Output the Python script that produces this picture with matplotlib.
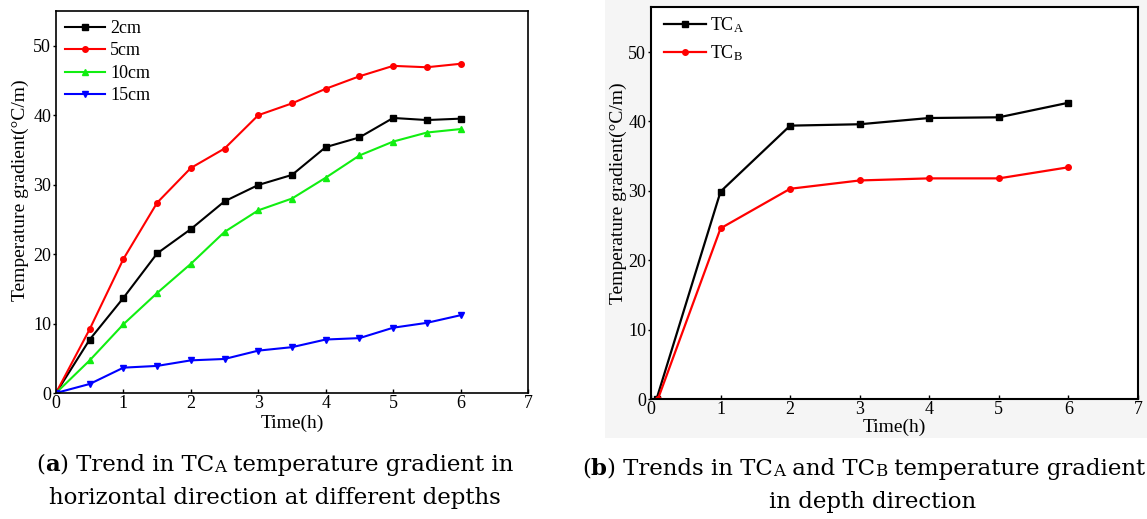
import matplotlib
matplotlib.use("Agg")
import matplotlib.pyplot as plt
from matplotlib.patches import Rectangle
from matplotlib.text import Annotation

plt.rcParams['font.family'] = ['Liberation Serif', 'DejaVu Serif']
plt.rcParams['mathtext.fontset'] = 'custom'
plt.rcParams['mathtext.rm'] = 'Liberation Serif'
plt.rcParams['mathtext.it'] = 'Liberation Serif:italic'

# panel (a): gradient at different depths
time_a = [0, 0.5, 1, 1.5, 2, 2.5, 3, 3.5, 4, 4.5, 5, 5.5, 6]
depth_labels = ['2cm', '5cm', '10cm', '15cm']
grad_2cm = [0, 7.7, 13.7, 20.1, 23.6, 27.6, 29.95, 31.4, 35.4, 36.8, 39.6, 39.3, 39.5]
grad_5cm = [0, 9.2, 19.3, 27.4, 32.4, 35.2, 40.0, 41.7, 43.8, 45.6, 47.1, 46.9, 47.4]
grad_10cm = [0, 4.7, 9.9, 14.4, 18.6, 23.2, 26.3, 28.0, 31.0, 34.2, 36.2, 37.5, 38.0]
grad_15cm = [0, 1.3, 3.65, 3.9, 4.7, 4.9, 6.1, 6.6, 7.7, 7.9, 9.4, 10.1, 11.2]

# panel (b): TCA vs TCB
time_tca = [0.08, 1, 2, 3, 4, 5, 6]
time_tcb = [0.1, 1, 2, 3, 4, 5, 6]
grad_tca = [0, 29.9, 39.4, 39.6, 40.5, 40.6, 42.7]
grad_tcb = [0, 24.6, 30.3, 31.5, 31.8, 31.8, 33.4]

W, H = 1147, 519
fig = plt.figure(figsize=(W / 100, H / 100), dpi=100)

# light grey backdrop behind panel (b)
fig.add_artist(Rectangle((605 / W, (H - 438) / H), 1, 1, transform=fig.transFigure,
                         facecolor='#f5f5f5', edgecolor='none', zorder=-10))

ax1 = fig.add_axes([56 / W, (H - 393) / H, 472 / W, 382 / H])
ax2 = fig.add_axes([651 / W, (H - 399) / H, 487 / W, 392 / H])

series_a = [grad_2cm, grad_5cm, grad_10cm, grad_15cm]
colors_a = ['black', '#ff0000', '#11ee11', '#0000ff']
markers_a = ['s', 'o', '^', 'v']
for vals, lab, c, m in zip(series_a, depth_labels, colors_a, markers_a):
    ax1.plot(time_a, vals, color=c, marker=m, markersize=4, lw=1.5, label=lab)

ax2.plot(time_tca, grad_tca, color='black', marker='s', markersize=4, lw=1.6,
         label=r'TC$_\mathrm{A}$')
ax2.plot(time_tcb, grad_tcb, color='#ff0000', marker='o', markersize=4, lw=1.6,
         label=r'TC$_\mathrm{B}$')

for ax, ymax, sw in [(ax1, 55, 1.2), (ax2, 56.5, 1.5)]:
    ax.set_xlim(0, 7)
    ax.set_ylim(0, ymax)
    ax.set_xticks(range(8))
    ax.set_yticks(range(0, 51, 10))
    ax.tick_params(axis='x', direction='in', length=3.2, width=1, top=False,
                   labelsize=13, pad=1.5)
    ax.tick_params(axis='y', direction='out', length=2.5, width=1, right=False,
                   labelsize=13, pad=1)
    for s in ax.spines.values():
        s.set_linewidth(sw)
    ax.set_facecolor('white')

ax1.set_xlabel('Time(h)', fontsize=14, va='center')
ax1.set_ylabel('Temperature gradient(°C/m)', fontsize=14, va='center')
ax2.set_xlabel('Time(h)', fontsize=14, va='center')
ax2.set_ylabel('Temperature gradient(°C/m)', fontsize=14, va='center')
ax1.xaxis.set_label_coords(0.5, -30 / 382)
ax1.yaxis.set_label_coords(-36 / 472, 203 / 382)
ax2.xaxis.set_label_coords(0.5, -28 / 392)
ax2.yaxis.set_label_coords(-33 / 487, 206 / 392)

ax1.legend(loc='upper left', bbox_to_anchor=(9 / 472, 1 - 9 / 382), frameon=False,
           fontsize=13, handlelength=2.2, handletextpad=0.3, labelspacing=0.3,
           borderpad=0, borderaxespad=0)
ax2.legend(loc='upper left', bbox_to_anchor=(13 / 487, 1 - 8 / 392), frameon=False,
           fontsize=13, handlelength=2.3, handletextpad=0.25, labelspacing=0.5,
           borderpad=0, borderaxespad=0)


def caption(x, y, parts):
    # parts: (text, size, weight) pieces laid out left to right
    s, size, weight = parts[0]
    prev = fig.text(x, y, s, fontsize=size, fontweight=weight, va='baseline',
                    family='DejaVu Serif')
    for s, size, weight in parts[1:]:
        prev = fig.add_artist(Annotation(s, xy=(1, 0), xycoords=prev, xytext=(0, 0),
                                         textcoords='offset points', ha='left',
                                         va='bottom', fontsize=size, fontweight=weight,
                                         family='DejaVu Serif'))


cap = 16.5
sc = 12
caption(36 / W, 1 - 471 / H, [('(', cap, 'normal'), ('a', cap, 'bold'),
                              (') Trend in TC', cap, 'normal'), ('A', sc, 'normal'),
                              (' temperature gradient in', cap, 'normal')])
fig.text(275 / W, 1 - 504 / H, 'horizontal direction at different depths',
         fontsize=cap, ha='center', va='baseline', family='DejaVu Serif')

caption(582 / W, 1 - 475 / H, [('(', cap, 'normal'), ('b', cap, 'bold'),
                               (') Trends in TC', cap, 'normal'), ('A', sc, 'normal'),
                               (' and TC', cap, 'normal'), ('B', sc, 'normal'),
                               (' temperature gradient', cap, 'normal')])
fig.text(873 / W, 1 - 508 / H, 'in depth direction', fontsize=cap, ha='center',
         va='baseline', family='DejaVu Serif')

fig.savefig('out.png', dpi=100)
